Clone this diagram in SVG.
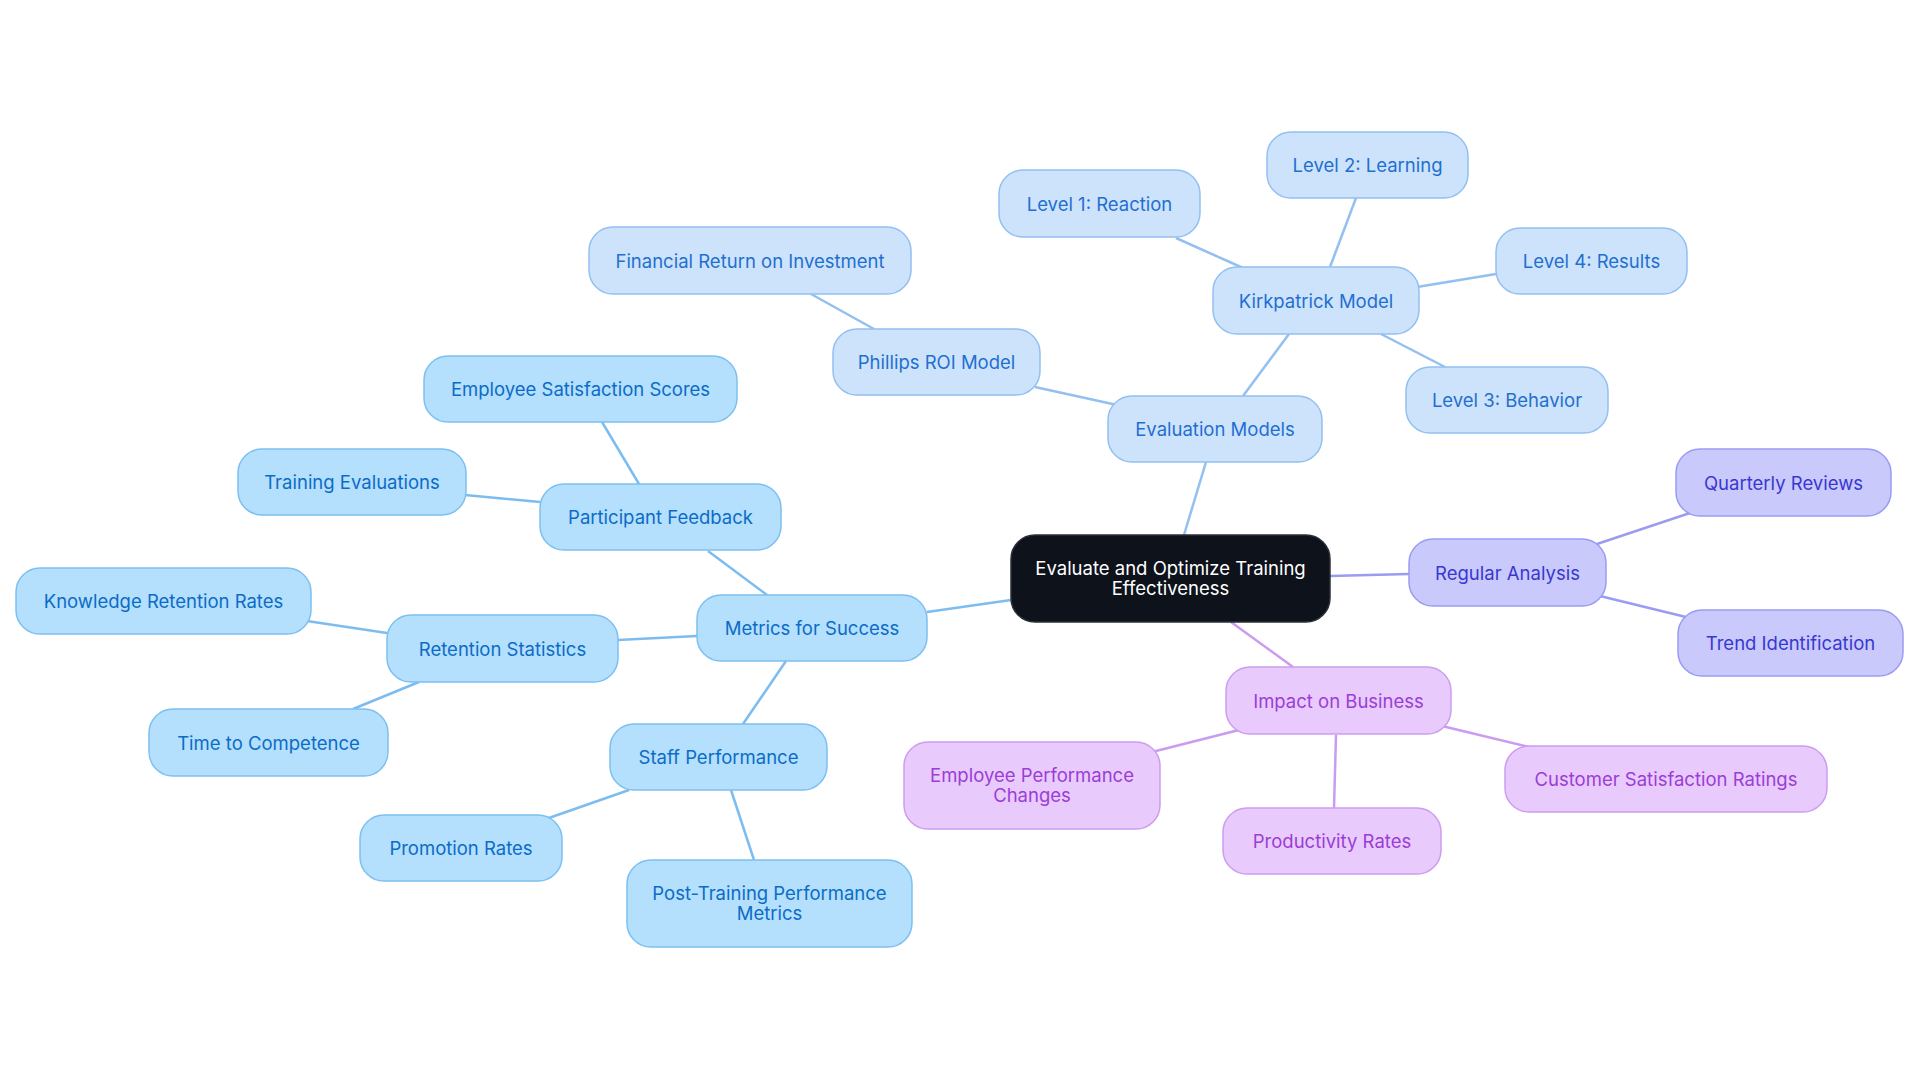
<svg xmlns="http://www.w3.org/2000/svg" width="1920" height="1083" viewBox="0 0 1920 1083">
<style>
text{font-family:Inter,"Liberation Sans",sans-serif;font-size:18.5px;text-anchor:middle;dominant-baseline:central}
.root rect{fill:#0d121b;stroke:#2a2f38;stroke-width:1.5}
.root text{fill:#ffffff}
.ev rect{fill:#cde3fb;stroke:#93c0f0;stroke-width:1.5}
.ev text{fill:#1f6fd0}
.me rect{fill:#b4dffd;stroke:#7dc0f0;stroke-width:1.5}
.me text{fill:#0b6cc7}
.ra rect{fill:#c9c9fc;stroke:#9a9cf2;stroke-width:1.5}
.ra text{fill:#3838d0}
.im rect{fill:#e8cafc;stroke:#cc9df0;stroke-width:1.5}
.im text{fill:#9b3dd6}
#connectors line{stroke-width:2.5;fill:none}
.cev{stroke:#93c0f0}
.cme{stroke:#7dbcef}
.cra{stroke:#9a9cf2}
.cim{stroke:#c99cf0}
</style>
<rect width="1920" height="1083" fill="#ffffff"/>
<g id="connectors">
<line class="cev" x1="1184" y1="535" x2="1206" y2="462"/>
<line class="cev" x1="1243" y1="396" x2="1289" y2="334"/>
<line class="cev" x1="1243" y1="268" x2="1176" y2="238"/>
<line class="cev" x1="1330" y1="267" x2="1356" y2="198"/>
<line class="cev" x1="1417" y1="287" x2="1496" y2="274"/>
<line class="cev" x1="1381" y1="334" x2="1445" y2="367"/>
<line class="cev" x1="1117" y1="405" x2="1035" y2="387"/>
<line class="cev" x1="874" y1="329" x2="811" y2="294"/>
<line class="cme" x1="1011" y1="600" x2="927" y2="612"/>
<line class="cme" x1="767" y1="595" x2="708" y2="551"/>
<line class="cme" x1="639" y1="484" x2="602" y2="422"/>
<line class="cme" x1="540" y1="502" x2="465" y2="495"/>
<line class="cme" x1="697" y1="636" x2="618" y2="640"/>
<line class="cme" x1="387" y1="633" x2="307" y2="621"/>
<line class="cme" x1="419" y1="682" x2="353" y2="709"/>
<line class="cme" x1="786" y1="661" x2="743" y2="724"/>
<line class="cme" x1="629" y1="790" x2="546" y2="819"/>
<line class="cme" x1="731" y1="790" x2="754" y2="860"/>
<line class="cra" x1="1330" y1="576" x2="1409" y2="574"/>
<line class="cra" x1="1594" y1="545" x2="1693" y2="512"/>
<line class="cra" x1="1600" y1="596" x2="1690" y2="618"/>
<line class="cim" x1="1231" y1="622" x2="1293" y2="667"/>
<line class="cim" x1="1239" y1="730" x2="1152" y2="752"/>
<line class="cim" x1="1336" y1="735" x2="1334" y2="808"/>
<line class="cim" x1="1442" y1="726" x2="1529" y2="747"/>
</g>
<g id="root" class="root"><rect x="1011" y="535" width="319" height="87" rx="24"/><text x="1170.5" y="568">Evaluate and Optimize Training</text><text x="1170.5" y="588">Effectiveness</text></g>
<g id="evaluation-models" class="ev"><rect x="1108" y="396" width="214" height="66" rx="24"/><text x="1215" y="429">Evaluation Models</text></g>
<g id="kirkpatrick" class="ev"><rect x="1213" y="267" width="206" height="67" rx="24"/><text x="1316" y="300.5">Kirkpatrick Model</text></g>
<g id="level1" class="ev"><rect x="999" y="170" width="201" height="67" rx="24"/><text x="1099.5" y="203.5">Level 1: Reaction</text></g>
<g id="level2" class="ev"><rect x="1267" y="132" width="201" height="66" rx="24"/><text x="1367.5" y="165">Level 2: Learning</text></g>
<g id="level4" class="ev"><rect x="1496" y="228" width="191" height="66" rx="24"/><text x="1591.5" y="261">Level 4: Results</text></g>
<g id="level3" class="ev"><rect x="1406" y="367" width="202" height="66" rx="24"/><text x="1507" y="400">Level 3: Behavior</text></g>
<g id="phillips" class="ev"><rect x="833" y="329" width="207" height="66" rx="24"/><text x="936.5" y="362">Phillips ROI Model</text></g>
<g id="financial" class="ev"><rect x="589" y="227" width="322" height="67" rx="24"/><text x="750" y="260.5">Financial Return on Investment</text></g>
<g id="metrics" class="me"><rect x="697" y="595" width="230" height="66" rx="24"/><text x="812" y="628">Metrics for Success</text></g>
<g id="participant" class="me"><rect x="540" y="484" width="241" height="66" rx="24"/><text x="660.5" y="517">Participant Feedback</text></g>
<g id="emp-sat" class="me"><rect x="424" y="356" width="313" height="66" rx="24"/><text x="580.5" y="389">Employee Satisfaction Scores</text></g>
<g id="training-eval" class="me"><rect x="238" y="449" width="228" height="66" rx="24"/><text x="352" y="482">Training Evaluations</text></g>
<g id="retention" class="me"><rect x="387" y="615" width="231" height="67" rx="24"/><text x="502.5" y="648.5">Retention Statistics</text></g>
<g id="knowledge" class="me"><rect x="16" y="568" width="295" height="66" rx="24"/><text x="163.5" y="601">Knowledge Retention Rates</text></g>
<g id="time" class="me"><rect x="149" y="709" width="239" height="67" rx="24"/><text x="268.5" y="742.5">Time to Competence</text></g>
<g id="staff" class="me"><rect x="610" y="724" width="217" height="66" rx="24"/><text x="718.5" y="757">Staff Performance</text></g>
<g id="promotion" class="me"><rect x="360" y="815" width="202" height="66" rx="24"/><text x="461" y="848">Promotion Rates</text></g>
<g id="post-training" class="me"><rect x="627" y="860" width="285" height="87" rx="24"/><text x="769.5" y="893">Post-Training Performance</text><text x="769.5" y="913">Metrics</text></g>
<g id="regular" class="ra"><rect x="1409" y="539" width="197" height="67" rx="24"/><text x="1507.5" y="572.5">Regular Analysis</text></g>
<g id="quarterly" class="ra"><rect x="1676" y="449" width="215" height="67" rx="24"/><text x="1783.5" y="482.5">Quarterly Reviews</text></g>
<g id="trend" class="ra"><rect x="1678" y="610" width="225" height="66" rx="24"/><text x="1790.5" y="643">Trend Identification</text></g>
<g id="impact" class="im"><rect x="1226" y="667" width="225" height="67" rx="24"/><text x="1338.5" y="700.5">Impact on Business</text></g>
<g id="emp-perf" class="im"><rect x="904" y="742" width="256" height="87" rx="24"/><text x="1032" y="775">Employee Performance</text><text x="1032" y="795">Changes</text></g>
<g id="productivity" class="im"><rect x="1223" y="808" width="218" height="66" rx="24"/><text x="1332" y="841">Productivity Rates</text></g>
<g id="customer" class="im"><rect x="1505" y="746" width="322" height="66" rx="24"/><text x="1666" y="779">Customer Satisfaction Ratings</text></g>
</svg>
